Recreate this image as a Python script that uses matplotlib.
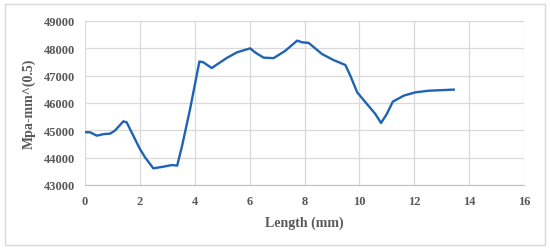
import matplotlib.pyplot as plt
from matplotlib.patches import Rectangle

# values
length = [0.0, 0.18, 0.43, 0.67, 0.92, 1.09, 1.40, 1.52, 2.0, 2.19, 2.49, 2.86, 3.16, 3.36,
          3.54, 3.83, 4.17, 4.31, 4.62, 4.93, 5.17, 5.53, 6.02, 6.2, 6.51, 6.87, 7.30, 7.73,
          7.92, 8.15, 8.64, 9.06, 9.49, 9.67, 9.92, 10.22, 10.58, 10.79, 11.0, 11.22, 11.62,
          12.04, 12.53, 13.44]
k_value = [44930, 44930, 44805, 44860, 44880, 44990, 45330, 45290, 44320, 44010, 43610,
           43670, 43730, 43710, 44440, 45780, 47520, 47490, 47280, 47490, 47650, 47850,
           48000, 47850, 47660, 47640, 47910, 48280, 48220, 48200, 47790, 47570, 47390,
           47000, 46390, 46030, 45600, 45270, 45600, 46050, 46270, 46390, 46450, 46490]
x_ticks = [0, 2, 4, 6, 8, 10, 12, 14, 16]
y_ticks = [43000, 44000, 45000, 46000, 47000, 48000, 49000]

plt.rcParams['font.family'] = ['Liberation Serif', 'DejaVu Serif']
txt = '#595959'
grid = '#d9d9d9'

fig = plt.figure(figsize=(5.5, 2.51), dpi=100)
fig.patches.append(Rectangle((5 / 550, 5 / 251), 540 / 550, 241 / 251, transform=fig.transFigure,
                             fill=False, edgecolor=grid, linewidth=1))
ax = fig.add_axes([85 / 550, 1 - 186 / 251, 439 / 550, 164 / 251])

ax.plot(length, k_value, color='#1f63b5', linewidth=1.7, zorder=3)

ax.set_xlim(0, 16)
ax.set_ylim(43000, 49000)
ax.set_xticks(x_ticks)
ax.set_yticks(y_ticks)
ax.grid(True, color=grid, linewidth=0.9)
for s in ['top', 'right', 'left']:
    ax.spines[s].set_visible(False)
ax.spines['bottom'].set_color('#bfbfbf')
ax.tick_params(length=0, pad=7, labelsize=9, labelcolor=txt)
for lab in ax.get_xticklabels() + ax.get_yticklabels():
    lab.set_fontweight('bold')

ax.set_xlabel('Length (mm)', fontsize=10, fontweight='bold', color=txt, labelpad=6)
ax.set_ylabel('Mpa-mm^(0.5)', fontsize=10, fontweight='bold', color=txt, labelpad=6)

fig.savefig('out.png', dpi=100)
